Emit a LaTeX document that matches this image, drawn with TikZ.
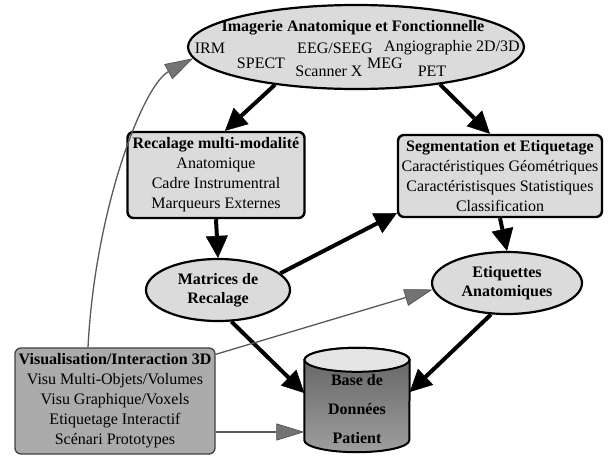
\documentclass[tikz,border=0pt]{standalone}
\usepackage{fontspec}
\setmainfont{Liberation Serif}
\usetikzlibrary{arrows.meta,shapes.geometric}

\begin{document}
\begin{tikzpicture}[x=1pt, y=-1pt,
        every node/.style={font=\fontsize{16}{20}\selectfont, inner sep=0pt},
        procbox/.style={rectangle, rounded corners=6pt, draw, line width=2.4pt, fill=black!14, align=center},
        viewbox/.style={procbox, draw=black!75, line width=1.3pt, fill=black!33},
        bubble/.style={ellipse, draw, line width=2.2pt, fill=black!14, align=center, font=\fontsize{16}{19}\selectfont\bfseries},
        dbside/.style={line width=2pt, top color=black!62, bottom color=black!38},
        dbend/.style={line width=2pt, fill=black!10},
        mainflow/.style={line width=4pt, -{Triangle[length=22pt, width=22pt, line width=0.5pt]}},
        viewlink/.style={line width=1.3pt, draw=black!65,
            -{Triangle[length=28pt, width=17pt, line width=0.6pt, color=black!70, fill=black!55]}}]
    \useasboundingbox (0,0) rectangle (608,456);
    \node[bubble, minimum width=336pt, minimum height=84pt] (imag) at (356,47) {};
    \node[font=\fontsize{16}{20}\selectfont\bfseries] (imagtitle) at (353,28) {Imagerie Anatomique et Fonctionnelle};
    \node (irm) at (210,48) {IRM};
    \node (spect) at (261,63) {SPECT};
    \node (eeg) at (335,48) {EEG/SEEG};
    \node (angio) at (452,48) {Angiographie 2D/3D};
    \node (scan) at (329,71) {Scanner X};
    \node (meg) at (385,63) {MEG};
    \node (pet) at (432,71) {PET};
    \node[procbox, minimum width=177pt, minimum height=86pt] (recal) at (216,175)
        {\textbf{Recalage multi-modalité}\\Anatomique\\Cadre Instrumentral\\Marqueurs Externes};
    \node[procbox, minimum width=204pt, minimum height=82pt] (seg) at (500,176)
        {\textbf{Segmentation et Etiquetage}\\Caractéristiques Géométriques\\Caractéristisques Statistiques\\Classification};
    \node[bubble, minimum width=144pt, minimum height=62pt] (matr) at (218,290) {Matrices de\\Recalage};
    \node[bubble, minimum width=150pt, minimum height=62pt] (etiq) at (507,283) {Etiquettes\\Anatomiques};
    \node[viewbox, minimum width=200pt, minimum height=106pt] (visu) at (115,401)
        {\textbf{Visualisation/Interaction 3D}\\Visu Multi-Objets/Volumes\\Visu Graphique/Voxels\\Etiquetage Interactif\\Scénari Prototypes};
    \node[minimum width=105pt, minimum height=104pt] (base) at (357,400) {};
    \draw[dbside] ([yshift=-12pt]base.north west) -- ([yshift=12pt]base.south west)
        arc[start angle=180, end angle=360, x radius=52.5pt, y radius=12pt]
        -- ([yshift=-12pt]base.north east)
        arc[start angle=0, end angle=180, x radius=52.5pt, y radius=12pt] -- cycle;
    \draw[dbend] ([yshift=-12pt]base.north) ellipse[x radius=52.5pt, y radius=12pt];
    \node[font=\fontsize{16}{29}\selectfont\bfseries, align=center] (basetext) at (357,409) {Base de\\Données\\Patient};
    \draw[mainflow] (imag.205) -- ([xshift=9pt]recal.north);
    \draw[mainflow] (imag.336) -- ([xshift=-10pt]seg.north);
    \draw[mainflow] (recal.south) -- (matr.north);
    \draw[mainflow] (matr.15) -- ([yshift=5pt]seg.south west);
    \draw[mainflow] (seg.south) -- (etiq.north);
    \draw[mainflow] (matr.293) -- ([yshift=7pt]base.west);
    \draw[mainflow] (etiq.243) -- ([yshift=8pt]base.east);
    \draw[viewlink] ([xshift=-27pt]visu.north) .. controls +(7,-138) and +(-50,27) .. (imag.184);
    \draw[viewlink] ([yshift=-7pt]visu.north east) -- (etiq.185);
    \draw[viewlink] ([yshift=-31pt]visu.east) -- ([yshift=-31pt]visu.east -| base.west);
\end{tikzpicture}
\end{document}
